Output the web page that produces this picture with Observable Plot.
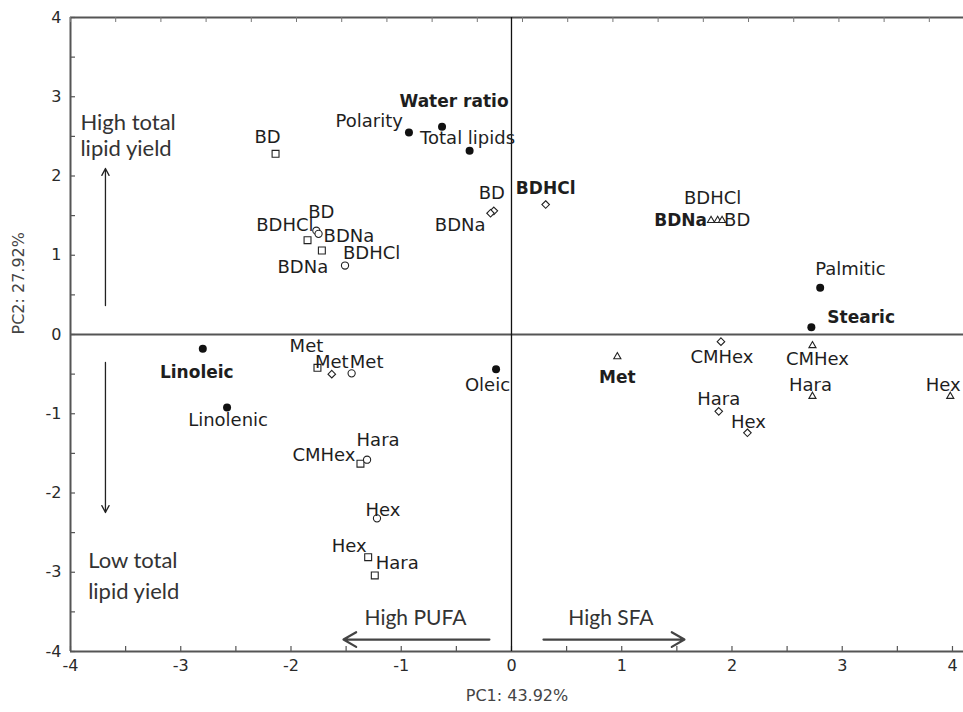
<!DOCTYPE html>
<html>
<head>
<meta charset="utf-8">
<script src="https://cdn.jsdelivr.net/npm/d3@7"></script>
<script src="https://cdn.jsdelivr.net/npm/@observablehq/plot@0.6"></script>
<style>
  html, body { margin: 0; padding: 0; background: #fff; }
  #chart svg { display: block; }
</style>
</head>
<body>
<div id="chart"></div>
<script>
// ---------- DATA ----------
const pointLabels = [
  "Water ratio", "Polarity", "Total lipids", "Palmitic", "Stearic", "Linoleic", "Linolenic", "Oleic",
  "BD", "BDHCl", "BDNa", "Met", "CMHex", "Hex", "Hara",
  "BD", "BDNa", "BDHCl", "Met", "Hara", "Hex",
  "BD", "BDNa", "BDHCl", "Met", "CMHex", "Hara", "Hex",
  "BDNa", "BDHCl", "BD", "Met", "CMHex", "Hara", "Hex"
];
const pc1 = [
  -0.63, -0.93, -0.38, 2.80, 2.72, -2.80, -2.58, -0.14,
  -2.14, -1.85, -1.72, -1.76, -1.37, -1.30, -1.24,
  -1.77, -1.75, -1.51, -1.45, -1.31, -1.22,
  -0.16, -0.19, 0.31, -1.63, 1.90, 1.88, 2.14,
  1.81, 1.87, 1.91, 0.96, 2.73, 2.73, 3.98
];
const pc2 = [
  2.62, 2.55, 2.32, 0.59, 0.09, -0.18, -0.92, -0.44,
  2.28, 1.19, 1.06, -0.42, -1.63, -2.81, -3.04,
  1.31, 1.27, 0.87, -0.49, -1.58, -2.32,
  1.56, 1.53, 1.64, -0.50, -0.09, -0.97, -1.24,
  1.44, 1.44, 1.44, -0.28, -0.14, -0.78, -0.78
];
const markerType = [
  "variable", "variable", "variable", "variable", "variable", "variable", "variable", "variable",
  "square", "square", "square", "square", "square", "square", "square",
  "circle", "circle", "circle", "circle", "circle", "circle",
  "diamond", "diamond", "diamond", "diamond", "diamond", "diamond", "diamond",
  "triangle", "triangle", "triangle", "triangle", "triangle", "triangle", "triangle"
];

const xTicks = [-4, -3, -2, -1, 0, 1, 2, 3, 4];
const yTicks = [-4, -3, -2, -1, 0, 1, 2, 3, 4];
const xTitle = "PC1: 43.92%";
const yTitle = "PC2: 27.92%";

const sideTexts = ["High total", "lipid yield", "Low total", "lipid yield"];
const sideTextX = [-3.91, -3.91, -3.84, -3.84];
const sideTextY = [2.675, 2.347, -2.852, -3.243];
const bottomTexts = ["High PUFA", "High SFA"];
const bottomTextX = [-0.871, 0.902];
const bottomTextY = [-3.584, -3.584];

const vArrowX = [-3.683, -3.683];
const vArrowY1 = [0.366, -0.353];
const vArrowY2 = [2.095, -2.246];
const hArrowY = [-3.849, -3.849];
const hArrowX1 = [-0.20, 0.29];
const hArrowX2 = [-1.524, 1.569];

// ---------- LABEL LAYOUT (pixel offsets, anchor, bold) ----------
const labelLayout = [
  [12, -25, "middle", 1], [-6, -11, "end", 0], [-2, -12, "middle", 0], [-5, -19, "start", 0],
  [16, -10, "start", 1], [-6, 24, "middle", 1], [1, 13, "middle", 0], [14, 16, "end", 0],
  [-8, -17, "middle", 0], [6, -15, "end", 0], [-19, 17, "middle", 0], [-11, -22, "middle", 0],
  [-5, -8, "end", 0], [-19, -11, "middle", 0], [1, -12, "start", 0],
  [5, -18, "middle", 0], [5, 2, "start", 0], [-2, -12, "start", 0], [15, -11, "middle", 0],
  [11, -19, "middle", 0], [6, -8, "middle", 0],
  [-2, -18, "middle", 0], [-5, 12, "end", 0], [0, -16, "middle", 1], [0, -12, "middle", 0],
  [1, 16, "middle", 0], [0, -12, "middle", 0], [1, -11, "middle", 0],
  [-4, 0, "end", 1], [-5, -22, "middle", 0], [2, 0, "start", 0], [0, 21, "middle", 1],
  [5, 14, "middle", 0], [-2, -11, "middle", 0], [-7, -11, "middle", 0]
];

// ---------- BUILD ----------
const rows = pointLabels.map((label, i) => ({
  label, pc1: pc1[i], pc2: pc2[i], marker: markerType[i]
}));
const halfTicksX = d3.range(-4, 4.01, 0.5);
const halfTicksY = d3.range(-4, 4.01, 0.5);
const topTicks = d3.range(-4, 4.1, 0.41);

const W = 963, H = 712;
const mL = 70, mR = 0, mT = 17, mB = 61;
const xDomain = [-4, 4.1], yDomain = [-4, 4];
const pxX = (W - mL - mR) / (xDomain[1] - xDomain[0]);
const pxY = (H - mT - mB) / (yDomain[1] - yDomain[0]);
const tickLen = 5;

const ink = "#222";
const symbolFor = {square: "square2", circle: "circle", diamond: "diamond2", triangle: "triangle2"};
const radiusFor = {square: 4.4, circle: 3.6, diamond: 3.4, triangle: 3.4};

const openMarks = ["square", "circle", "diamond", "triangle"].map(m =>
  Plot.dot(rows.filter(d => d.marker === m), {
    x: "pc1", y: "pc2", symbol: () => symbolFor[m], r: radiusFor[m],
    fill: "white", stroke: ink, strokeWidth: 1.1
  })
);

const labelMarks = rows.map((d, i) => {
  const [dx, dy, anchor, bold] = labelLayout[i];
  return Plot.text([d], {
    x: "pc1", y: "pc2", text: "label", dx, dy, textAnchor: anchor,
    fontSize: bold ? 17 : 18, fontWeight: bold ? "bold" : "normal",
    fill: "#1e1e1e", fontFamily: "DejaVu Sans"
  });
});

const chart = Plot.plot({
  width: W, height: H,
  marginLeft: mL, marginRight: mR, marginTop: mT, marginBottom: mB,
  x: {domain: xDomain},
  y: {domain: yDomain},
  style: {fontFamily: "DejaVu Sans", fontSize: "16px", color: "#333", background: "white", overflow: "visible"},
  marks: [
    // frame
    Plot.ruleY([yDomain[0], yDomain[1]], {stroke: "#555", strokeWidth: 2}),
    Plot.ruleX([xDomain[0]], {stroke: "#555", strokeWidth: 2}),
    // inward ticks
    Plot.ruleX(halfTicksX, {y1: yDomain[0], y2: yDomain[0] + tickLen / pxY, stroke: "#555", strokeWidth: 1.2}),
    Plot.ruleY(halfTicksY, {x1: xDomain[0], x2: xDomain[0] + tickLen / pxX, stroke: "#555", strokeWidth: 1.2}),
    Plot.ruleX(topTicks, {y1: yDomain[1], y2: yDomain[1] - tickLen / pxY, stroke: "#777", strokeWidth: 1}),
    // zero lines
    Plot.ruleY([0], {stroke: "#555", strokeWidth: 2}),
    Plot.ruleX([0], {stroke: "#111", strokeWidth: 1.3}),
    // axes
    Plot.axisX({ticks: xTicks, tickSize: 0, tickPadding: 8, tickFormat: d => String(d), label: null, fontSize: 16, fill: "#2a2a2a"}),
    Plot.axisY({ticks: yTicks, tickSize: 0, tickPadding: 9, tickFormat: d => String(d), label: null, fontSize: 16, fill: "#2a2a2a"}),
    Plot.text([xTitle], {frameAnchor: "bottom", dy: 49, fontSize: 16, fill: "#444"}),
    Plot.text([yTitle], {frameAnchor: "left", dx: -52, rotate: -90, fontSize: 16, fill: "#444"}),
    // annotations
    Plot.text(sideTexts, {x: (d, i) => sideTextX[i], y: (d, i) => sideTextY[i], text: d => d, textAnchor: "start",
      fontFamily: "Lato", fontSize: 22, fill: "#333"}),
    Plot.text(bottomTexts, {x: (d, i) => bottomTextX[i], y: (d, i) => bottomTextY[i], text: d => d,
      fontFamily: "Lato", fontSize: 21, fill: "#333"}),
    Plot.arrow(vArrowX, {x1: (d) => d, x2: (d) => d, y1: (d, i) => vArrowY1[i], y2: (d, i) => vArrowY2[i],
      stroke: "#222", strokeWidth: 1.3, headLength: 9, headAngle: 55}),
    Plot.arrow(hArrowY, {y1: d => d, y2: d => d, x1: (d, i) => hArrowX1[i], x2: (d, i) => hArrowX2[i],
      stroke: "#444", strokeWidth: 2.2, headLength: 10, headAngle: 60}),
    // points
    Plot.dot(rows.filter(d => d.marker === "variable"), {x: "pc1", y: "pc2", r: 4, fill: "#111"}),
    ...openMarks,
    ...labelMarks
  ]
});
document.getElementById("chart").appendChild(chart);
</script>
</body>
</html>
